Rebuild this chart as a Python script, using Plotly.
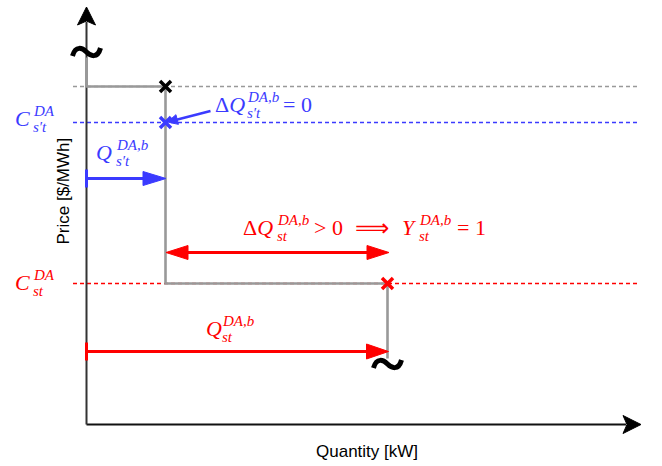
import plotly.graph_objects as go

# ---- schematic values (quantity in kW, price in $/MWh, arbitrary units) ----
q_levels = [7.9, 30.1]            # Q_{s't}^{DA,b}, Q_{st}^{DA,b}
price_levels = [33.8, 30.2, 14.1]  # upper block price, C_{s't}^{DA}, C_{st}^{DA}
curve_top = 36.7                   # where the bid curve leaves the broken axis
curve_bottom = 6.6                 # where the bid curve is cut off
axis_ends = [55.45, 41.75]         # x-axis end, y-axis end
dash_span = [-1.35, 55.35]         # extent of the dashed price lines
arrow_rows = [24.6, 17.2, 7.3]     # Q_{s't} arrow, Delta Q_{st} arrow, Q_{st} arrow
break_marks = [(0.0, 37.25), (30.1, 6.05)]

W, H = 662, 466
U = 10.0                      # pixels per data unit
X0, Y0 = 86.5, 424.5          # pixel position of the origin
x_range = [-X0 / U, (W - X0) / U]
y_range = [-(H - Y0) / U, Y0 / U]

BLUE = "#3b3bff"
RED = "#ff0000"
GRAY = "#999999"
MATH = "Liberation Serif"
BASE, SMALL = 22, 15

q1, q2 = q_levels
p_top, c_s1, c_st = price_levels

fig = go.Figure()
shapes = []
annotations = []


def line(xs, ys, color, width, dash=None):
    fig.add_trace(go.Scatter(x=xs, y=ys, mode="lines", hoverinfo="skip",
                             line=dict(color=color, width=width, dash=dash)))


def head(x, y, ux, uy, length, half, color, notch=0.0):
    """Filled arrow head with its tip at (x, y) pointing along (ux, uy) in pixel space."""
    n = (ux ** 2 + uy ** 2) ** 0.5
    ux, uy = ux / n, uy / n
    px, py = -uy, ux
    pts = [(0, 0),
           (-length * ux + half * px, -length * uy + half * py),
           (-(length - notch) * ux, -(length - notch) * uy),
           (-length * ux - half * px, -length * uy - half * py)]
    path = "M " + " L ".join(f"{x + a / U:.4f},{y + b / U:.4f}" for a, b in pts) + " Z"
    shapes.append(dict(type="path", path=path, xref="x", yref="y",
                       fillcolor=color, line=dict(color=color, width=1)))


def tick(x, y, color):
    line([x, x], [y - 0.9, y + 0.9], color, 3)


def tilde(x, y):
    s = 1 / U
    path = (f"M {x - 14 * s},{y - 4 * s} "
            f"C {x - 11 * s},{y + 7 * s} {x - 4 * s},{y + 4 * s} {x},{y} "
            f"C {x + 4 * s},{y - 4 * s} {x + 11 * s},{y - 7 * s} {x + 14 * s},{y + 4 * s}")
    shapes.append(dict(type="path", path=path, xref="x", yref="y",
                       line=dict(color="black", width=5)))


def text(x, y, dx, dy, s, color, size=BASE, family=MATH):
    annotations.append(dict(x=x, y=y, xref="x", yref="y", text=s, showarrow=False,
                            xanchor="left", yanchor="middle", xshift=dx - 3, yshift=dy,
                            font=dict(family=family, size=size, color=color)))


def symbol(x, y, dx, dy, base, sup, sub, sdx, color):
    text(x, y, dx, dy, base, color)
    text(x, y, dx + sdx, dy + 8, f"<i>{sup}</i>", color, SMALL)
    text(x, y, dx + sdx, dy - 8, f"<i>{sub}</i>", color, SMALL)


# dashed price levels
line(dash_span, [p_top, p_top], GRAY, 1.4, "4px,3px")
line(dash_span, [c_s1, c_s1], BLUE, 1.4, "4px,3px")
line(dash_span, [c_st, c_st], RED, 1.4, "4px,3px")

# axes
line([0, axis_ends[0] - 1.5], [0, 0], "#111111", 2)
line([0, 0], [0, axis_ends[1] - 1.5], "#333333", 2)
head(axis_ends[0], 0, 1, 0, 18, 9, "black", notch=4)
head(0, axis_ends[1], 0, 1, 18, 9, "black", notch=4)

# stepped bid curve
line([0, 0, q1, q1, q2, q2],
     [curve_top, p_top, p_top, c_st, c_st, curve_bottom], GRAY, 2.6)

# Q_{s't} arrow
r1, r2, r3 = arrow_rows
line([0, q1 - 2.0], [r1, r1], BLUE, 3)
tick(0, r1, BLUE)
head(q1 + 0.05, r1, 1, 0, 23, 7, BLUE)

# Delta Q_{st} double arrow
line([q1 + 2.0, q2 - 2.0], [r2, r2], RED, 3)
head(q1 + 0.05, r2, -1, 0, 22, 7, RED)
head(q2 + 0.15, r2, 1, 0, 22, 7, RED)

# Q_{st} arrow
line([0, q2 - 2.0], [r3, r3], RED, 3)
tick(0, r3, RED)
head(q2 + 0.1, r3, 1, 0, 22, 7.5, RED)

# pointer to the unchanged block
tip_x, tip_y = q1 + 0.2, c_s1 + 0.05
line([tip_x + 4.3, tip_x + 0.8], [tip_y + 1.1, tip_y + 0.2], BLUE, 2.5)
head(tip_x, tip_y, -4.3, -1.1, 10, 5, BLUE)

# block end markers
fig.add_trace(go.Scatter(x=[q1, q1, q2], y=[p_top, c_s1, c_st], mode="markers",
                         hoverinfo="skip",
                         marker=dict(symbol="x-thin", size=11,
                                     line=dict(width=3.5, color=["black", BLUE, RED]))))

# axis breaks
for bx, by in break_marks:
    tilde(bx, by)

# labels
symbol(0, c_s1, -71, 4, "<i>C</i>", "DA", "s′t", 18, BLUE)
symbol(0, c_st, -71, 1, "<i>C</i>", "DA", "st", 18, RED)
symbol(q1, c_s1, 50, 18, "Δ<i>Q</i>", "DA,b", "s′t", 32, BLUE)
text(q1, c_s1, 118, 18, "= 0", BLUE)
symbol(0, r1, 10, 26, "<i>Q</i>", "DA,b", "s′t", 20, BLUE)
symbol(q1, r2, 78, 25, "Δ<i>Q</i>", "DA,b", "st", 34, RED)
text(q1, r2, 149, 25, "> 0", RED)
text(q1, r2, 190, 25, "⟹", RED, 24)
symbol(q1, r2, 237, 25, "<i>Y</i>", "DA,b", "st", 17, RED)
text(q1, r2, 292, 25, "= 1", RED)
symbol(0, r3, 120, 23, "<i>Q</i>", "DA,b", "st", 16, RED)

# axis titles
annotations.append(dict(x=0, y=0, xref="x", yref="y", text="Quantity [kW]",
                        showarrow=False, xanchor="center", yanchor="middle",
                        xshift=367 - X0, yshift=-(451 - Y0),
                        font=dict(family="Liberation Sans", size=17, color="black")))
annotations.append(dict(x=0, y=(Y0 - 191) / U, xref="x", yref="y", text="Price [$/MWh]",
                        showarrow=False, textangle=-90, xshift=-24, xanchor="center",
                        yanchor="middle", font=dict(family="Liberation Sans", size=17,
                                                    color="black")))

fig.update_layout(width=W, height=H, margin=dict(l=0, r=0, t=0, b=0),
                  plot_bgcolor="white", paper_bgcolor="white", showlegend=False,
                  shapes=shapes, annotations=annotations,
                  xaxis=dict(range=x_range, visible=False, fixedrange=True),
                  yaxis=dict(range=y_range, visible=False, fixedrange=True))
fig.write_html("out.html")
